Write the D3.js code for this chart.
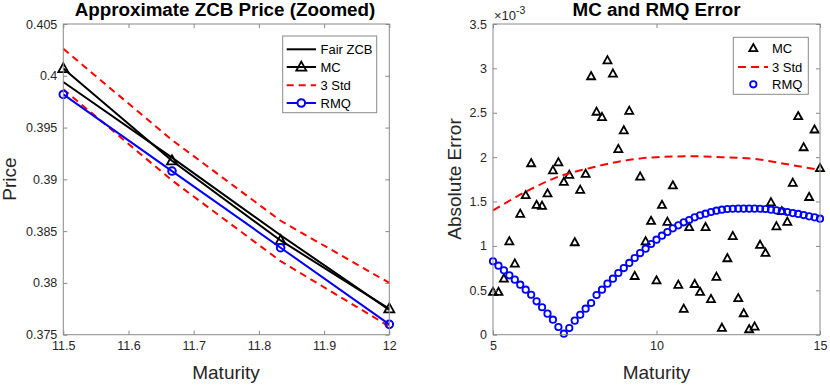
<!DOCTYPE html>
<html>
<head>
<meta charset="utf-8">
<script src="https://cdn.jsdelivr.net/npm/d3@7"></script>
<style>
  body { margin: 0; background: #fff; }
  text { font-family: "Liberation Sans", Arial, sans-serif; }
</style>
</head>
<body>
<script>
const width = 830;
const height = 386;

// left panel: zoomed prices
const zoomMaturity = [11.5, 11.6667, 11.8333, 12];
const fairZCB = [0.3994, 0.3921, 0.3846, 0.3774];
const mcPrice = [0.4007, 0.3918, 0.3841, 0.3775];
const stdUpper = [0.4026, 0.3938, 0.3860, 0.3800];
const stdLower = [0.3987, 0.3899, 0.3821, 0.3758];
const rmqPrice = [0.3982, 0.3908, 0.3834, 0.3760];
const leftYTicks = [0.375, 0.38, 0.385, 0.39, 0.395, 0.4, 0.405];
const leftXTicks = [11.5, 11.6, 11.7, 11.8, 11.9, 12];

// right panel: absolute errors (x 1e-3)
const errMaturity = [5.000, 5.167, 5.333, 5.500, 5.667, 5.833, 6.000, 6.167, 6.333, 6.500,
  6.667, 6.833, 7.000, 7.167, 7.333, 7.500, 7.667, 7.833, 8.000, 8.167,
  8.333, 8.500, 8.667, 8.833, 9.000, 9.167, 9.333, 9.500, 9.667, 9.833,
  10.000, 10.167, 10.333, 10.500, 10.667, 10.833, 11.000, 11.167, 11.333, 11.500,
  11.667, 11.833, 12.000, 12.167, 12.333, 12.500, 12.667, 12.833, 13.000, 13.167,
  13.333, 13.500, 13.667, 13.833, 14.000, 14.167, 14.333, 14.500, 14.667, 14.833, 15.000];
const mcError = [0.48, 0.48, 0.63, 1.05, 0.80, 1.36, 1.57, 1.93, 1.46, 1.45,
  1.59, 1.85, 1.94, 1.72, 1.80, 1.04, 1.63, 1.81, 2.91, 2.51,
  2.45, 3.09, 2.94, 2.09, 2.30, 2.52, 0.66, 1.78, 1.05, 1.28,
  0.61, 1.46, 1.27, 1.68, 0.56, 0.29, 1.21, 0.57, 0.48, 1.21,
  0.40, 0.65, 0.075, 0.86, 1.11, 0.41, 0.24, 0.06, 0.09, 1.01,
  0.92, 1.49, 1.22, 1.39, 1.27, 1.71, 2.46, 2.11, 1.55, 2.31, 1.875];
const rmqError = [0.827, 0.777, 0.725, 0.669, 0.620, 0.563, 0.507, 0.450, 0.376, 0.309,
  0.237, 0.169, 0.087, 0.011, 0.075, 0.158, 0.225, 0.293, 0.357, 0.447,
  0.507, 0.575, 0.631, 0.695, 0.751, 0.808, 0.864, 0.920, 0.969, 1.022,
  1.070, 1.115, 1.157, 1.198, 1.232, 1.266, 1.292, 1.322, 1.345, 1.363,
  1.382, 1.397, 1.408, 1.416, 1.419, 1.420, 1.420, 1.420, 1.420, 1.419,
  1.416, 1.408, 1.400, 1.393, 1.382, 1.370, 1.360, 1.348, 1.333, 1.322, 1.307];
const stdMaturity = [5, 6, 7, 8, 9, 10, 11, 12, 13, 14, 15];
const stdError = [1.40, 1.61, 1.78, 1.88, 1.96, 2.00, 2.01, 2.00, 1.98, 1.92, 1.855];
const rightYTicks = [0, 0.5, 1, 1.5, 2, 2.5, 3, 3.5];
const rightXTicks = [5, 10, 15];

const axisColor = '#262626';
const boxColor = '#8a8a8a';

const svg = d3.select('body').append('svg')
  .attr('width', width)
  .attr('height', height);

const fmt = d => String(+d.toFixed(3));

function drawAxes(x, y, xTicks, yTicks) {
  const [x0, x1] = x.range();
  const [y0, y1] = y.range();
  svg.append('rect')
    .attr('x', x0).attr('y', y1)
    .attr('width', x1 - x0).attr('height', y0 - y1)
    .attr('fill', 'none')
    .attr('stroke', boxColor)
    .attr('stroke-width', 1);

  const axes = [
    [d3.axisBottom(x).tickValues(xTicks).tickFormat(fmt), `translate(0,${y0})`],
    [d3.axisTop(x).tickValues(xTicks).tickFormat(''), `translate(0,${y1})`],
    [d3.axisLeft(y).tickValues(yTicks).tickFormat(fmt), `translate(${x0},0)`],
    [d3.axisRight(y).tickValues(yTicks).tickFormat(''), `translate(${x1},0)`]
  ];
  axes.forEach(([ax, tr]) => {
    const g = svg.append('g')
      .attr('transform', tr)
      .call(ax.tickSizeInner(-4).tickSizeOuter(0).tickPadding(6));
    g.select('.domain').remove();
    g.selectAll('line').attr('stroke', boxColor);
    g.selectAll('text')
      .attr('fill', axisColor)
      .attr('font-size', '12.5px')
      .style('font-family', '"Liberation Sans", Arial, sans-serif');
  });
}

function triangle(g, cx, cy, s) {
  const h = s * 0.9;
  g.append('path')
    .attr('d', `M${cx},${cy - h * 0.6}L${cx + s / 2},${cy + h * 0.4}L${cx - s / 2},${cy + h * 0.4}Z`)
    .attr('fill', 'none')
    .attr('stroke', '#000')
    .attr('stroke-width', 1.8);
}

// ---------- left panel ----------
const xL = d3.scaleLinear().domain([11.5, 12]).range([63.3, 389.3]);
const yL = d3.scaleLinear().domain([0.375, 0.405]).range([334.7, 24]);

const lineL = vals => d3.line()
  .x((d, i) => xL(zoomMaturity[i]))
  .y(d => yL(d))(vals);

const gL = svg.append('g');
gL.append('path').attr('d', lineL(fairZCB))
  .attr('fill', 'none').attr('stroke', '#000').attr('stroke-width', 2);
gL.append('path').attr('d', lineL(mcPrice))
  .attr('fill', 'none').attr('stroke', '#000').attr('stroke-width', 2);
mcPrice.forEach((v, i) => triangle(gL, xL(zoomMaturity[i]), yL(v), 10));
[stdUpper, stdLower].forEach(vals => {
  gL.append('path').attr('d', lineL(vals))
    .attr('fill', 'none').attr('stroke', '#ff0000').attr('stroke-width', 2)
    .attr('stroke-dasharray', '7,5');
});
gL.append('path').attr('d', lineL(rmqPrice))
  .attr('fill', 'none').attr('stroke', '#0000ff').attr('stroke-width', 2);
gL.selectAll('circle.rmq')
  .data(rmqPrice)
  .join('circle')
    .attr('class', 'rmq')
    .attr('cx', (d, i) => xL(zoomMaturity[i]))
    .attr('cy', d => yL(d))
    .attr('r', 3.8)
    .attr('fill', 'none')
    .attr('stroke', '#0000ff')
    .attr('stroke-width', 2);

drawAxes(xL, yL, leftXTicks, leftYTicks);

svg.append('text')
  .attr('x', 225).attr('y', 16)
  .attr('text-anchor', 'middle')
  .attr('font-size', '18.8px').attr('font-weight', 'bold')
  .text('Approximate ZCB Price (Zoomed)');
svg.append('text')
  .attr('x', 226).attr('y', 379)
  .attr('text-anchor', 'middle')
  .attr('font-size', '19px').attr('fill', axisColor)
  .text('Maturity');
svg.append('text')
  .attr('transform', 'translate(16,179) rotate(-90)')
  .attr('text-anchor', 'middle')
  .attr('font-size', '19px').attr('fill', axisColor)
  .text('Price');

// left legend
const legL = svg.append('g');
legL.append('rect')
  .attr('x', 282.7).attr('y', 36).attr('width', 94).attr('height', 76.7)
  .attr('fill', '#fff').attr('stroke', boxColor).attr('stroke-width', 1);
const legLItems = ['Fair ZCB', 'MC', '3 Std', 'RMQ'];
const legLY = [49.3, 67, 85.3, 103];
legLItems.forEach((name, i) => {
  const y = legLY[i];
  const stroke = name === '3 Std' ? '#ff0000' : name === 'RMQ' ? '#0000ff' : '#000';
  legL.append('line')
    .attr('x1', 286.7).attr('x2', 316).attr('y1', y).attr('y2', y)
    .attr('stroke', stroke).attr('stroke-width', 2)
    .attr('stroke-dasharray', name === '3 Std' ? '7,5' : null);
  if (name === 'MC') triangle(legL, 301.3, y, 10);
  if (name === 'RMQ') {
    legL.append('circle').attr('cx', 301.3).attr('cy', y).attr('r', 3.8)
      .attr('fill', '#fff').attr('stroke', stroke).attr('stroke-width', 2);
  }
  legL.append('text')
    .attr('x', 320.5).attr('y', y).attr('dy', '0.35em')
    .attr('font-size', '13px').attr('fill', '#000')
    .text(name);
});

// ---------- right panel ----------
const xR = d3.scaleLinear().domain([5, 15]).range([493, 820]);
const yR = d3.scaleLinear().domain([0, 3.5]).range([334.7, 24]);

const gR = svg.append('g');
mcError.forEach((v, i) => triangle(gR, xR(errMaturity[i]), yR(v), 8));

gR.append('path')
  .attr('d', d3.line()
    .x((d, i) => xR(stdMaturity[i]))
    .y(d => yR(d))
    .curve(d3.curveMonotoneX)(stdError))
  .attr('fill', 'none').attr('stroke', '#ff0000').attr('stroke-width', 2)
  .attr('stroke-dasharray', '8,5');

gR.selectAll('circle.rmq')
  .data(rmqError)
  .join('circle')
    .attr('class', 'rmq')
    .attr('cx', (d, i) => xR(errMaturity[i]))
    .attr('cy', d => yR(d))
    .attr('r', 3.2)
    .attr('fill', 'none')
    .attr('stroke', '#0000ff')
    .attr('stroke-width', 1.8);

drawAxes(xR, yR, rightXTicks, rightYTicks);

const expo = svg.append('text')
  .attr('x', 494).attr('y', 20)
  .attr('font-size', '13px').attr('fill', axisColor);
expo.append('tspan').text('\u00d710');
expo.append('tspan').attr('dy', -6).attr('font-size', '10.5px').text('-3');

svg.append('text')
  .attr('x', 656.5).attr('y', 16)
  .attr('text-anchor', 'middle')
  .attr('font-size', '18.8px').attr('font-weight', 'bold')
  .text('MC and RMQ Error');
svg.append('text')
  .attr('x', 656.5).attr('y', 379)
  .attr('text-anchor', 'middle')
  .attr('font-size', '19px').attr('fill', axisColor)
  .text('Maturity');
svg.append('text')
  .attr('transform', 'translate(461,179) rotate(-90)')
  .attr('text-anchor', 'middle')
  .attr('font-size', '19px').attr('fill', axisColor)
  .text('Absolute Error');

// right legend
const legR = svg.append('g');
legR.append('rect')
  .attr('x', 733.3).attr('y', 37.3).attr('width', 75).attr('height', 57)
  .attr('fill', '#fff').attr('stroke', boxColor).attr('stroke-width', 1);
const legRItems = ['MC', '3 Std', 'RMQ'];
const legRY = [48.3, 67, 84.3];
legRItems.forEach((name, i) => {
  const y = legRY[i];
  if (name === 'MC') triangle(legR, 753.3, y, 8);
  if (name === '3 Std') {
    legR.append('line')
      .attr('x1', 738).attr('x2', 768).attr('y1', y).attr('y2', y)
      .attr('stroke', '#ff0000').attr('stroke-width', 2)
      .attr('stroke-dasharray', '8,5');
  }
  if (name === 'RMQ') {
    legR.append('circle').attr('cx', 753.3).attr('cy', y).attr('r', 3.2)
      .attr('fill', 'none').attr('stroke', '#0000ff').attr('stroke-width', 1.8);
  }
  legR.append('text')
    .attr('x', 772).attr('y', y).attr('dy', '0.35em')
    .attr('font-size', '13px').attr('fill', '#000')
    .text(name);
});
</script>
</body>
</html>
